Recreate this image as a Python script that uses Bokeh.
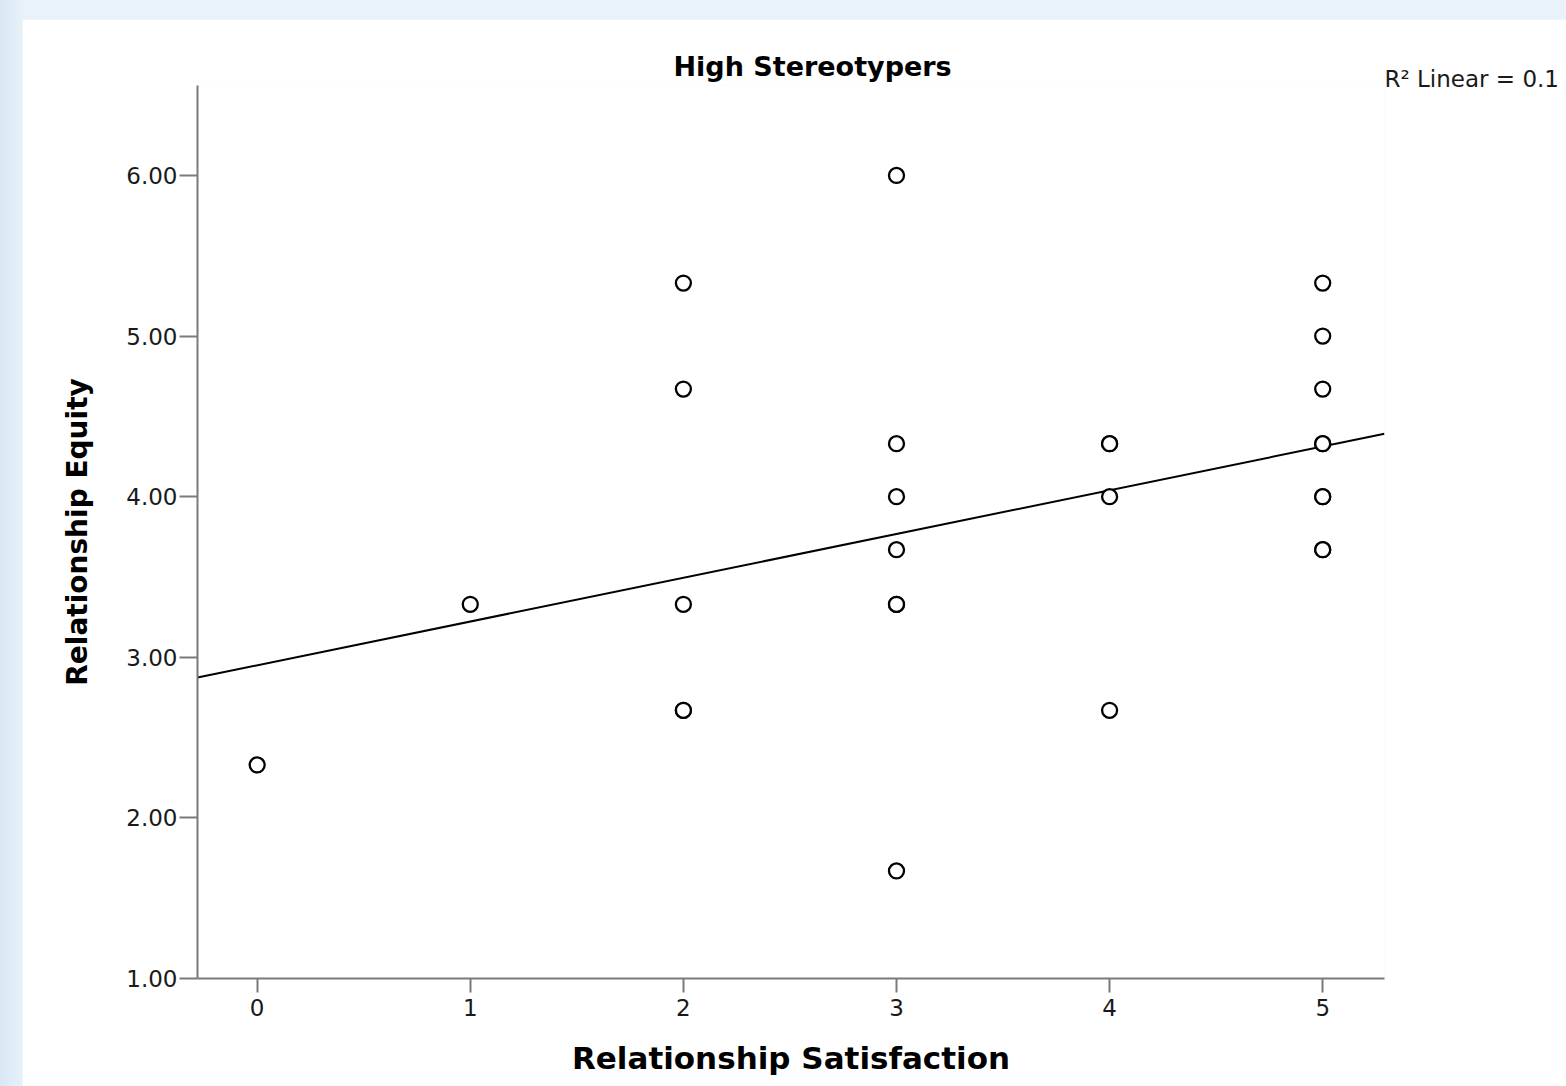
import numpy as np
from bokeh.plotting import figure
from bokeh.models import Title, Range1d, FixedTicker, GlobalInlineStyleSheet
from bokeh.embed import file_html
from bokeh.resources import INLINE

# ---------------- data ----------------
title_text = "High Stereotypers"
x_label = "Relationship Satisfaction"
y_label = "Relationship Equity"
r2_text = "R\u00b2 Linear = 0.1"

satisfaction = [0, 1, 2, 2, 2, 2, 2, 3, 3, 3, 3, 3, 3, 3, 4, 4, 4, 4, 5, 5, 5, 5, 5, 5, 5, 5, 5]
equity = [2.33, 3.33, 5.33, 4.67, 3.33, 2.67, 2.67, 6.00, 4.33, 4.00, 3.67, 3.33, 3.33, 1.67,
          4.33, 4.33, 4.00, 2.67, 5.33, 5.00, 4.67, 4.33, 4.33, 4.00, 4.00, 3.67, 3.67]

x_ticks = [0, 1, 2, 3, 4, 5]
x_tick_labels = ["0", "1", "2", "3", "4", "5"]
y_ticks = [1, 2, 3, 4, 5, 6]
y_tick_labels = ["1.00", "2.00", "3.00", "4.00", "5.00", "6.00"]

x_min, x_max = -0.28, 5.29
y_min, y_max = 1.0, 6.56

# ---------------- figure ----------------
W, H = 1544, 1067
p = figure(width=W, height=H, output_backend="svg", toolbar_location=None,
           x_range=Range1d(x_min, x_max), y_range=Range1d(y_min, y_max),
           min_border_left=175, min_border_right=182, min_border_top=66, min_border_bottom=108)

p.stylesheets = [GlobalInlineStyleSheet(
    css="body{background:linear-gradient(to right,#d9e7f4 0px,#e9f2fa 24px);overflow:hidden;}")]
p.styles = {"margin-left": "22px", "margin-top": "19px"}

p.border_fill_color = "white"
p.background_fill_color = "white"
p.outline_line_color = None
p.xgrid.visible = False
p.ygrid.visible = False

# axes
axis_col = "#7a7a7a"
for ax in (p.xaxis[0], p.yaxis[0]):
    ax.axis_line_color = axis_col
    ax.axis_line_width = 2
    ax.major_tick_line_color = axis_col
    ax.major_tick_line_width = 2
    ax.major_tick_in = 0
    ax.minor_tick_line_color = None
    ax.major_label_text_font = "DejaVu Sans"
    ax.major_label_text_font_size = "23px"
    ax.major_label_text_color = "#1a1a1a"
    ax.axis_label_text_font = "DejaVu Sans"
    ax.axis_label_text_font_style = "bold"
    ax.axis_label_text_color = "black"

p.xaxis.ticker = FixedTicker(ticks=x_ticks)
p.xaxis.major_label_overrides = dict(zip(x_ticks, x_tick_labels))
p.xaxis.major_tick_out = 14
p.xaxis.major_label_standoff = 6
p.xaxis.axis_label = x_label
p.xaxis.axis_label_text_font_size = "31px"
p.xaxis.axis_label_standoff = 21

p.yaxis.ticker = FixedTicker(ticks=y_ticks)
p.yaxis.major_label_overrides = dict(zip(y_ticks, y_tick_labels))
p.yaxis.major_tick_out = 18
p.yaxis.major_label_standoff = 2
p.yaxis.axis_label = y_label
p.yaxis.axis_label_text_font_size = "28px"
p.yaxis.axis_label_standoff = 29

# fit line
slope, intercept = np.polyfit(satisfaction, equity, 1)
fx = [x_min, x_max]
fy = [intercept + slope * v for v in fx]
p.line(fx, fy, line_color="black", line_width=2)

# points
p.scatter(satisfaction, equity, marker="circle", size=15, fill_color="white",
          line_color="black", line_width=2.3)

# R2 note (nearest the frame) and main title
p.add_layout(Title(text=r2_text, align="left", offset=1187, standoff=-12,
                   text_font="DejaVu Sans", text_font_style="normal",
                   text_font_size="23px", text_color="#1a1a1a"), "above")

p.title.text = title_text
p.title.align = "left"
p.title.offset = 476
p.title.standoff = -24
p.title.text_font = "DejaVu Sans"
p.title.text_font_style = "bold"
p.title.text_font_size = "27px"
p.title.text_color = "black"

open("out.html", "w").write(file_html(p, INLINE))
